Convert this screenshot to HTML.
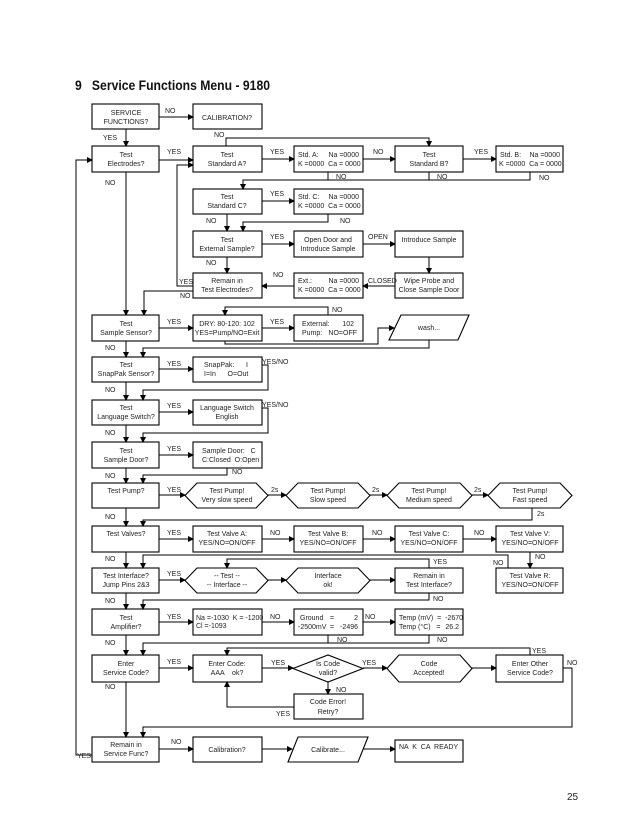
<!DOCTYPE html>
<html><head><meta charset="utf-8"><style>
html,body{margin:0;padding:0;background:#fff;}
svg{display:block;}
text{font-family:"Liberation Sans",sans-serif;font-size:7px;fill:#222;white-space:pre;}
.c{text-anchor:middle;}
.r{text-anchor:end;}
.t{font-size:14px;font-weight:bold;fill:#111;}
</style></head><body>
<svg width="638" height="826" viewBox="0 0 638 826" xmlns="http://www.w3.org/2000/svg" xml:space="preserve">
<defs><marker id="a" markerWidth="6" markerHeight="6" refX="5" refY="3" orient="auto" markerUnits="userSpaceOnUse"><path d="M0,0 L6,3 L0,6 z" fill="#000"/></marker></defs>
<text x="75" y="90" class="t" textLength="195" lengthAdjust="spacingAndGlyphs">9   Service Functions Menu - 9180</text>
<text x="567" y="800" style="font-size:10px">25</text>

<g fill="none" stroke="#000" stroke-width="1.1">
<rect x="92" y="104" width="67" height="25"/>
<rect x="193" y="104" width="69" height="25"/>
<rect x="92" y="146" width="67" height="26"/>
<rect x="193" y="146" width="69" height="26"/>
<rect x="294" y="146" width="69" height="26"/>
<rect x="395" y="146" width="68" height="26"/>
<rect x="496" y="146" width="67" height="26"/>
<rect x="193" y="189" width="69" height="25"/>
<rect x="294" y="189" width="69" height="25"/>
<rect x="193" y="231" width="69" height="26"/>
<rect x="294" y="231" width="69" height="26"/>
<rect x="395" y="231" width="68" height="26"/>
<rect x="193" y="273" width="69" height="25"/>
<rect x="294" y="273" width="69" height="25"/>
<rect x="395" y="273" width="68" height="25"/>
<rect x="92" y="315" width="67" height="26"/>
<rect x="193" y="315" width="69" height="26"/>
<rect x="294" y="315" width="69" height="26"/>
<path d="M401,315 L469,315 L458,340 L389,340 Z"/>
<rect x="92" y="357" width="67" height="25"/>
<rect x="193" y="357" width="69" height="25"/>
<rect x="92" y="400" width="67" height="25"/>
<rect x="193" y="400" width="69" height="25"/>
<rect x="92" y="442" width="67" height="26"/>
<rect x="193" y="442" width="69" height="26"/>
<rect x="92" y="483" width="67" height="25"/>
<path d="M185,495.5 L197,483 L256,483 L268,495.5 L256,508 L197,508 Z"/>
<path d="M286,495.5 L298,483 L358,483 L370,495.5 L358,508 L298,508 Z"/>
<path d="M387,495.5 L399,483 L460,483 L472,495.5 L460,508 L399,508 Z"/>
<path d="M488,495.5 L500,483 L560,483 L572,495.5 L560,508 L500,508 Z"/>
<rect x="92" y="526" width="67" height="26"/>
<rect x="193" y="526" width="69" height="26"/>
<rect x="294" y="526" width="69" height="26"/>
<rect x="395" y="526" width="68" height="26"/>
<rect x="496" y="526" width="67" height="26"/>
<rect x="92" y="568" width="67" height="25"/>
<path d="M185,580.5 L197,568 L256,568 L268,580.5 L256,593 L197,593 Z"/>
<path d="M286,580.5 L298,568 L358,568 L370,580.5 L358,593 L298,593 Z"/>
<rect x="395" y="568" width="68" height="25"/>
<rect x="496" y="568" width="67" height="25"/>
<rect x="92" y="609" width="67" height="26"/>
<rect x="193" y="609" width="69" height="26"/>
<rect x="294" y="609" width="69" height="26"/>
<rect x="395" y="609" width="68" height="26"/>
<rect x="92" y="655" width="67" height="27"/>
<rect x="193" y="655" width="69" height="27"/>
<path d="M293,668.5 L328,655 L363,668.5 L328,682 Z"/>
<path d="M387,668.5 L399,655 L460,655 L472,668.5 L460,682 L399,682 Z"/>
<rect x="496" y="655" width="67" height="27"/>
<rect x="294" y="694" width="69" height="25"/>
<rect x="92" y="737" width="67" height="25"/>
<rect x="193" y="737" width="69" height="25"/>
<path d="M298,737 L368,737 L358,762 L288,762 Z"/>
<rect x="395" y="740" width="68" height="22"/>
</g>

<g fill="none" stroke="#000" stroke-width="1">
<path d="M126,129 V146" marker-end="url(#a)"/>
<path d="M159,117 H193" marker-end="url(#a)"/>
<path d="M159,160 H193" marker-end="url(#a)"/>
<path d="M262,159 H294" marker-end="url(#a)"/>
<path d="M363,159 H395" marker-end="url(#a)"/>
<path d="M463,159 H496" marker-end="url(#a)"/>
<path d="M226,146 V138 H429 V146" marker-end="url(#a)"/>
<path d="M530,172 V180 H243 V189" marker-end="url(#a)"/>
<path d="M429,172 V180"/><path d="M328,172 V180"/>
<path d="M262,201 H294" marker-end="url(#a)"/>
<path d="M328,214 V222 H243 V231" marker-end="url(#a)"/>
<path d="M227,214 V231" marker-end="url(#a)"/>
<path d="M262,244 H294" marker-end="url(#a)"/>
<path d="M363,244 H395" marker-end="url(#a)"/>
<path d="M429,257 V273" marker-end="url(#a)"/>
<path d="M395,286 H363" marker-end="url(#a)"/>
<path d="M294,286 H262" marker-end="url(#a)"/>
<path d="M227,257 V273" marker-end="url(#a)"/>
<path d="M193,286 H177 V165 H193" marker-end="url(#a)"/>
<path d="M193,291 H144 V315" marker-end="url(#a)"/>
<path d="M126,172 V315" marker-end="url(#a)"/>
<path d="M159,328 H193" marker-end="url(#a)"/>
<path d="M262,328 H294" marker-end="url(#a)"/>
<path d="M328,315 V307 H225 V315" marker-end="url(#a)"/>
<path d="M225,341 V344 H378 V328 H394" marker-end="url(#a)"/>
<path d="M429,340 V348 H143 V357" marker-end="url(#a)"/>
<path d="M126,341 V357" marker-end="url(#a)"/>
<path d="M159,369 H193" marker-end="url(#a)"/>
<path d="M262,365 H268 V390 H143 V400" marker-end="url(#a)"/>
<path d="M126,382 V400" marker-end="url(#a)"/>
<path d="M159,412 H193" marker-end="url(#a)"/>
<path d="M262,408 H268 V433 H143 V442" marker-end="url(#a)"/>
<path d="M126,425 V442" marker-end="url(#a)"/>
<path d="M159,455 H193" marker-end="url(#a)"/>
<path d="M227,468 V475 H143 V483" marker-end="url(#a)"/>
<path d="M126,468 V483" marker-end="url(#a)"/>
<path d="M159,495 H185" marker-end="url(#a)"/>
<path d="M268,495 H286" marker-end="url(#a)"/>
<path d="M370,495 H387" marker-end="url(#a)"/>
<path d="M472,495 H488" marker-end="url(#a)"/>
<path d="M532,508 V520 H143 V526" marker-end="url(#a)"/>
<path d="M126,508 V526" marker-end="url(#a)"/>
<path d="M159,539 H193" marker-end="url(#a)"/>
<path d="M262,539 H294" marker-end="url(#a)"/>
<path d="M363,539 H395" marker-end="url(#a)"/>
<path d="M463,539 H496" marker-end="url(#a)"/>
<path d="M530,552 V568" marker-end="url(#a)"/>
<path d="M508,568 V555 H143 V568" marker-end="url(#a)"/>
<path d="M126,552 V568" marker-end="url(#a)"/>
<path d="M159,580 H185" marker-end="url(#a)"/>
<path d="M268,580 H286" marker-end="url(#a)"/>
<path d="M370,580 H395" marker-end="url(#a)"/>
<path d="M429,568 V559 H227 V568" marker-end="url(#a)"/>
<path d="M429,593 V600 H143 V609" marker-end="url(#a)"/>
<path d="M126,593 V609" marker-end="url(#a)"/>
<path d="M159,622 H193" marker-end="url(#a)"/>
<path d="M262,622 H294" marker-end="url(#a)"/>
<path d="M363,622 H395" marker-end="url(#a)"/>
<path d="M429,635 V643 H143 V655" marker-end="url(#a)"/>
<path d="M328,635 V643"/>
<path d="M126,635 V655" marker-end="url(#a)"/>
<path d="M159,668 H193" marker-end="url(#a)"/>
<path d="M262,668 H293" marker-end="url(#a)"/>
<path d="M363,668 H387" marker-end="url(#a)"/>
<path d="M472,668 H496" marker-end="url(#a)"/>
<path d="M530,655 V648 H227 V655" marker-end="url(#a)"/>
<path d="M563,668 H572 V727 H143 V737" marker-end="url(#a)"/>
<path d="M328,682 V694" marker-end="url(#a)"/>
<path d="M294,707 H227 V682" marker-end="url(#a)"/>
<path d="M126,682 V737" marker-end="url(#a)"/>
<path d="M159,749 H193" marker-end="url(#a)"/>
<path d="M262,749 H292" marker-end="url(#a)"/>
<path d="M363,749 H395" marker-end="url(#a)"/>
<path d="M92,755 H76 V160 H92" marker-end="url(#a)"/>
</g>

<g>
<text x="126" y="115" class="c">SERVICE</text><text x="126" y="124" class="c">FUNCTIONS?</text>
<text x="227" y="120" class="c">CALIBRATION?</text>
<text x="126" y="157" class="c">Test</text><text x="126" y="166" class="c">Electrodes?</text>
<text x="227" y="157" class="c">Test</text><text x="227" y="166" class="c">Standard A?</text>
<text x="298" y="157">Std. A:</text><text x="359" y="157" class="r">Na =0000</text><text x="298" y="166">K =0000  Ca = 0000</text>
<text x="429" y="157" class="c">Test</text><text x="429" y="166" class="c">Standard B?</text>
<text x="500" y="157">Std. B:</text><text x="560" y="157" class="r">Na =0000</text><text x="499" y="166">K =0000  Ca = 0000</text>
<text x="227" y="199" class="c">Test</text><text x="227" y="208" class="c">Standard C?</text>
<text x="298" y="199">Std. C:</text><text x="359" y="199" class="r">Na =0000</text><text x="298" y="208">K =0000  Ca = 0000</text>
<text x="227" y="242" class="c">Test</text><text x="227" y="251" class="c">External Sample?</text>
<text x="328" y="242" class="c">Open Door and</text><text x="328" y="251" class="c">Introduce Sample</text>
<text x="429" y="242" class="c">Introduce Sample</text>
<text x="227" y="283" class="c">Remain in</text><text x="227" y="292" class="c">Test Electrodes?</text>
<text x="298" y="283">Ext.:</text><text x="359" y="283" class="r">Na =0000</text><text x="298" y="292">K =0000  Ca = 0000</text>
<text x="429" y="283" class="c">Wipe Probe and</text><text x="429" y="292" class="c">Close Sample Door</text>
<text x="126" y="326" class="c">Test</text><text x="126" y="335" class="c">Sample Sensor?</text>
<text x="227" y="326" class="c">DRY: 80-120: 102</text><text x="227" y="335" class="c">YES=Pump/NO=Exit</text>
<text x="302" y="326">External:</text><text x="354" y="326" class="r">102</text><text x="302" y="335">Pump:</text><text x="357" y="335" class="r">NO=OFF</text>
<text x="429" y="330" class="c">wash...</text>
<text x="126" y="367" class="c">Test</text><text x="126" y="376" class="c">SnapPak Sensor?</text>
<text x="204" y="367">SnapPak:</text><text x="246" y="367">I</text><text x="204" y="376">I=In      O=Out</text>
<text x="126" y="410" class="c">Test</text><text x="126" y="419" class="c">Language Switch?</text>
<text x="227" y="410" class="c">Language Switch</text><text x="227" y="419" class="c">English</text>
<text x="126" y="453" class="c">Test</text><text x="126" y="462" class="c">Sample Door?</text>
<text x="202" y="453">Sample Door:   C</text><text x="202" y="462">C:Closed  O:Open</text>
<text x="126" y="493" class="c">Test Pump?</text>
<text x="227" y="493" class="c">Test Pump!</text><text x="227" y="502" class="c">Very slow speed</text>
<text x="328" y="493" class="c">Test Pump!</text><text x="328" y="502" class="c">Slow speed</text>
<text x="429" y="493" class="c">Test Pump!</text><text x="429" y="502" class="c">Medium speed</text>
<text x="530" y="493" class="c">Test Pump!</text><text x="530" y="502" class="c">Fast speed</text>
<text x="126" y="536" class="c">Test Valves?</text>
<text x="227" y="536" class="c">Test Valve A:</text><text x="227" y="545" class="c">YES/NO=ON/OFF</text>
<text x="328" y="536" class="c">Test Valve B:</text><text x="328" y="545" class="c">YES/NO=ON/OFF</text>
<text x="429" y="536" class="c">Test Valve C:</text><text x="429" y="545" class="c">YES/NO=ON/OFF</text>
<text x="530" y="536" class="c">Test Valve V:</text><text x="530" y="545" class="c">YES/NO=ON/OFF</text>
<text x="126" y="578" class="c">Test Interface?</text><text x="126" y="587" class="c">Jump Pins 2&amp;3</text>
<text x="227" y="578" class="c">-- Test --</text><text x="227" y="587" class="c">-- Interface --</text>
<text x="328" y="578" class="c">Interface</text><text x="328" y="587" class="c">ok!</text>
<text x="429" y="578" class="c">Remain in</text><text x="429" y="587" class="c">Test Interface?</text>
<text x="530" y="578" class="c">Test Valve R:</text><text x="530" y="587" class="c">YES/NO=ON/OFF</text>
<text x="126" y="620" class="c">Test</text><text x="126" y="629" class="c">Amplifier?</text>
<text x="196" y="620">Na =-1030  K = -1200</text><text x="196" y="628">Cl =-1093</text>
<text x="300" y="620">Ground</text><text x="330" y="620">=</text><text x="358" y="620" class="r">2</text>
<text x="298" y="629">-2500mV</text><text x="330" y="629">=</text><text x="358" y="629" class="r">-2496</text>
<text x="399" y="620">Temp (mV)  =  -2670</text><text x="399" y="629">Temp (°C)   =</text><text x="459" y="629" class="r">26.2</text>
<text x="126" y="666" class="c">Enter</text><text x="126" y="675" class="c">Service Code?</text>
<text x="227" y="666" class="c">Enter Code:</text><text x="227" y="675" class="c">AAA    ok?</text>
<text x="328" y="666" class="c">Is Code</text><text x="328" y="675" class="c">valid?</text>
<text x="429" y="666" class="c">Code</text><text x="429" y="675" class="c">Accepted!</text>
<text x="530" y="666" class="c">Enter Other</text><text x="530" y="675" class="c">Service Code?</text>
<text x="328" y="704" class="c">Code Error!</text><text x="328" y="714" class="c">Retry?</text>
<text x="126" y="747" class="c">Remain in</text><text x="126" y="756" class="c">Service Func?</text>
<text x="227" y="752" class="c">Calibration?</text>
<text x="328" y="752" class="c">Calibrate...</text>
<text x="399" y="749">NA  K  CA  READY</text>

<text x="165" y="113">NO</text>
<text x="103" y="140">YES</text>
<text x="214" y="137">NO</text>
<text x="105" y="185">NO</text>
<text x="167" y="154">YES</text>
<text x="270" y="154">YES</text>
<text x="373" y="154">NO</text>
<text x="474" y="154">YES</text>
<text x="336" y="179">NO</text><text x="437" y="179">NO</text><text x="539" y="180">NO</text>
<text x="270" y="196">YES</text>
<text x="206" y="223">NO</text><text x="340" y="223">NO</text>
<text x="270" y="239">YES</text>
<text x="368" y="239">OPEN</text>
<text x="206" y="265">NO</text>
<text x="273" y="277">NO</text>
<text x="368" y="283">CLOSED</text>
<text x="179" y="284">YES</text>
<text x="180" y="298">NO</text>
<text x="332" y="312">NO</text>
<text x="167" y="324">YES</text><text x="270" y="324">YES</text>
<text x="105" y="350">NO</text>
<text x="167" y="366">YES</text><text x="262" y="364">YES/NO</text>
<text x="105" y="392">NO</text>
<text x="167" y="408">YES</text><text x="262" y="407">YES/NO</text>
<text x="105" y="435">NO</text>
<text x="167" y="451">YES</text>
<text x="105" y="478">NO</text><text x="232" y="474">NO</text>
<text x="167" y="492">YES</text>
<text x="271" y="492">2s</text><text x="372" y="492">2s</text><text x="474" y="492">2s</text>
<text x="537" y="516">2s</text>
<text x="105" y="519">NO</text>
<text x="167" y="535">YES</text><text x="270" y="535">NO</text><text x="372" y="535">NO</text><text x="474" y="535">NO</text>
<text x="105" y="561">NO</text>
<text x="433" y="564">YES</text><text x="493" y="565">NO</text><text x="535" y="559">NO</text>
<text x="167" y="576">YES</text>
<text x="105" y="603">NO</text><text x="433" y="601">NO</text>
<text x="167" y="619">YES</text><text x="270" y="619">NO</text><text x="365" y="619">NO</text>
<text x="105" y="645">NO</text><text x="337" y="642">NO</text><text x="437" y="642">NO</text>
<text x="167" y="664">YES</text><text x="271" y="665">YES</text><text x="362" y="665">YES</text>
<text x="532" y="653">YES</text><text x="567" y="665">NO</text>
<text x="105" y="689">NO</text><text x="336" y="692">NO</text>
<text x="276" y="716">YES</text>
<text x="171" y="744">NO</text>
<text x="77" y="758">YES</text>
</g>
</svg>
</body></html>
